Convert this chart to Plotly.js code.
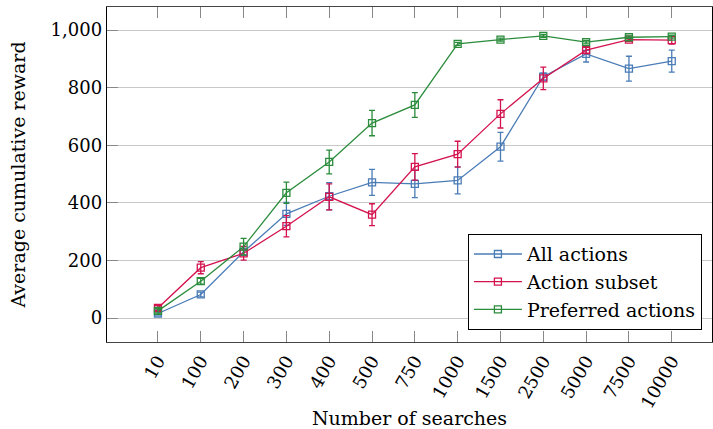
<!DOCTYPE html>
<html>
<head>
<meta charset="utf-8">
<script src="https://cdn.plot.ly/plotly-3.0.1.min.js"></script>
<style>html,body{margin:0;padding:0;background:#fff;}#chart{width:713px;height:429px;}</style>
</head>
<body>
<div id="chart"></div>
<script>
const categories = ["10","100","200","300","400","500","750","1000","1500","2500","5000","7500","10000"];
const allActions = [16, 82, 230, 362, 423, 471, 466, 478, 595, 838, 917, 866, 892];
const allActionsErr = [6, 8, 12, 40, 47, 45, 48, 47, 50, 12, 28, 43, 38];
const actionSubset = [35, 175, 225, 319, 421, 359, 525, 569, 709, 832, 930, 967, 965];
const actionSubsetErr = [8, 21, 24, 37, 45, 38, 46, 45, 49, 39, 10, 6, 14];
const preferred = [25, 128, 248, 435, 542, 677, 740, 952, 967, 980, 958, 975, 977];
const preferredErr = [8, 10, 29, 37, 41, 44, 43, 5, 5, 5, 6, 5, 5];
const seriesNames = ["All actions", "Action subset", "Preferred actions"];
const yTicks = [0, 200, 400, 600, 800, 1000];

const colors = ["#4a7cb6", "#d3124e", "#2b8c3c"];
const vals = [allActions, actionSubset, preferred];
const errs = [allActionsErr, actionSubsetErr, preferredErr];

const traces = vals.map((v, i) => ({
  type: 'scatter',
  mode: 'lines+markers',
  name: seriesNames[i],
  x: categories,
  y: v,
  line: {color: colors[i], width: 1.3},
  marker: {symbol: 'square-open', size: 7, color: colors[i], line: {width: 1.3, color: colors[i]}},
  error_y: {type: 'data', array: errs[i], visible: true, color: colors[i], thickness: 1.3, width: 3}
}));

const serif = "'DejaVu Serif', serif";
const layout = {
  width: 713, height: 429,
  margin: {l: 107, r: 1, t: 7, b: 87},
  paper_bgcolor: '#fff', plot_bgcolor: '#fff',
  font: {family: serif, color: '#000', size: 19},
  showlegend: true,
  legend: {
    x: 0.983, xanchor: 'right', y: 0.036, yanchor: 'bottom',
    bordercolor: '#000', borderwidth: 1.2, bgcolor: '#fff',
    font: {family: serif, size: 19, color: '#000'},
    itemwidth: 48,
    tracegroupgap: 0
  },
  xaxis: {
    type: 'category',
    categoryorder: 'array', categoryarray: categories,
    range: [-1.19, 12.94],
    tickangle: -60,
    ticks: 'inside', ticklen: 11, tickcolor: '#888', tickwidth: 1,
    showline: true, linecolor: '#444', linewidth: 1.3, mirror: 'ticks',
    showgrid: false, zeroline: false,
    tickfont: {family: serif, size: 18},
    title: {text: 'Number of searches', font: {family: serif, size: 19}, standoff: 16}
  },
  yaxis: {
    range: [-83, 1080],
    tickvals: yTicks,
    tickformat: ',',
    ticks: 'inside', ticklen: 11, tickcolor: '#888', tickwidth: 1,
    showline: true, linecolor: '#000', linewidth: 1.3, mirror: true,
    showgrid: true, gridcolor: '#c8c8c8', gridwidth: 1,
    zeroline: false,
    tickfont: {family: serif, size: 18},
    title: {text: 'Average cumulative reward', font: {family: serif, size: 19}, standoff: 20}
  }
};

Plotly.newPlot('chart', traces, layout, {displayModeBar: false, staticPlot: true});
</script>
</body>
</html>
